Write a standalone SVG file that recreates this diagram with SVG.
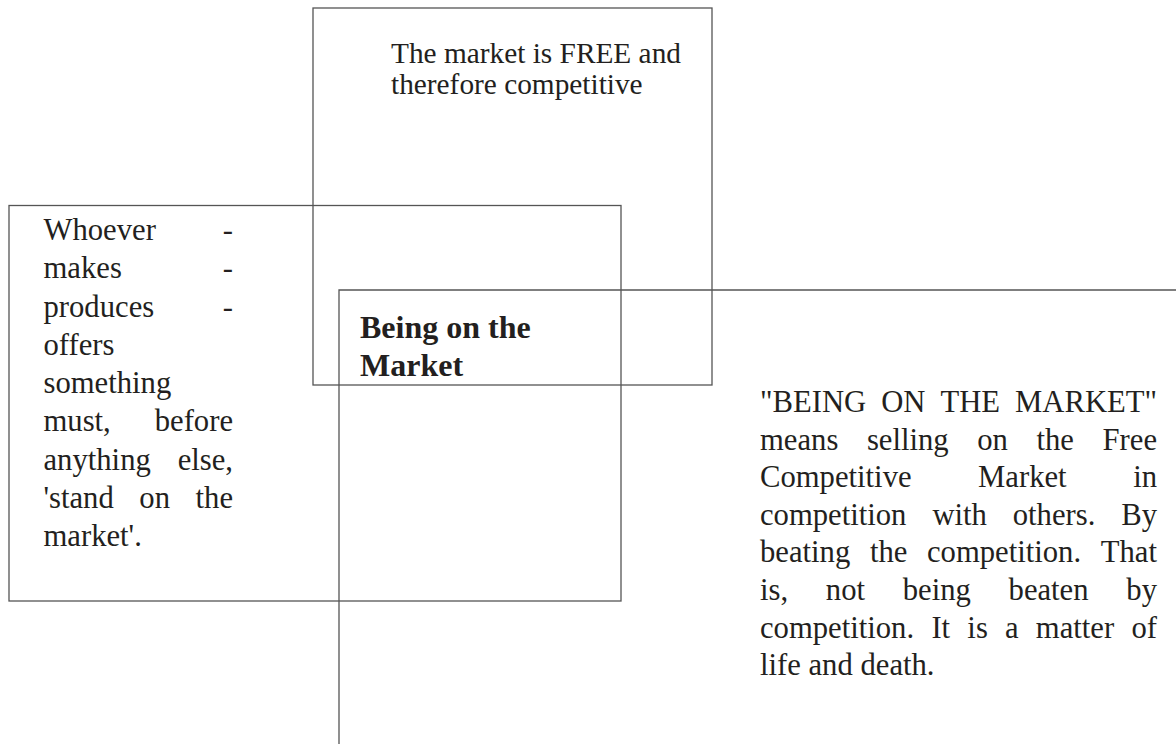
<svg xmlns="http://www.w3.org/2000/svg" width="1176" height="744" viewBox="0 0 1176 744">
<style>
.box{fill:none;stroke:#555;stroke-width:1.3}
.t{font-family:"Liberation Serif","Times New Roman",serif;fill:#231f20}
.body{font-size:30.67px}
.top{font-size:29.33px}
.title{font-size:32px;font-weight:bold}
.e{text-anchor:end}
</style>
<rect width="1176" height="744" fill="#ffffff"/>
<g id="connectors"></g>
<g id="node-free-market">
<rect class="box" x="313" y="8" width="399" height="377"/>
<text class="t top" x="391" y="63">The market is FREE and</text>
<text class="t top" x="391" y="94">therefore competitive</text>
</g>
<g id="node-whoever">
<rect class="box" x="9" y="205.5" width="612" height="395.5"/>
<g class="t body">
<text x="43.5" y="240">Whoever</text><text class="e" x="233" y="240">-</text>
<text x="43.5" y="278.25">makes</text><text class="e" x="233" y="278.25">-</text>
<text x="43.5" y="316.5">produces</text><text class="e" x="233" y="316.5">-</text>
<text x="43.5" y="354.75">offers</text>
<text x="43.5" y="393">something</text>
<text x="43.5" y="431.25">must,</text><text class="e" x="233" y="431.25">before</text>
<text x="43.5" y="469.5">anything</text><text class="e" x="233" y="469.5">else,</text>
<text x="43.5" y="507.75">'stand</text><text x="139.35" y="507.75">on</text><text class="e" x="233" y="507.75">the</text>
<text x="43.5" y="546">market'.</text>
</g>
</g>
<g id="node-being-on-market">
<path class="box" d="M1180,290 H339 V748"/>
<text class="t title" x="360" y="338">Being on the</text>
<text class="t title" x="360" y="376">Market</text>
</g>
<g id="node-definition" class="t body">
<text x="760" y="412">"BEING</text><text x="881.2" y="412">ON</text><text x="940.5" y="412">THE</text><text class="e" x="1157" y="412">MARKET"</text>
<text x="760" y="449.6">means</text><text x="866.91" y="449.6">selling</text><text x="977.26" y="449.6">on</text><text x="1036.48" y="449.6">the</text><text class="e" x="1157" y="449.6">Free</text>
<text x="760" y="487.2">Competitive</text><text x="978.11" y="487.2">Market</text><text class="e" x="1157" y="487.2">in</text>
<text x="760" y="524.8">competition</text><text x="932.38" y="524.8">with</text><text x="1012.75" y="524.8">others.</text><text class="e" x="1157" y="524.8">By</text>
<text x="760" y="562.4">beating</text><text x="869.89" y="562.4">the</text><text x="926.97" y="562.4">competition.</text><text class="e" x="1157" y="562.4">That</text>
<text x="760" y="600">is,</text><text x="825.82" y="600">not</text><text x="902.72" y="600">being</text><text x="1008.57" y="600">beaten</text><text class="e" x="1157" y="600">by</text>
<text x="760" y="637.6">competition.</text><text x="931.42" y="637.6">It</text><text x="967.37" y="637.6">is</text><text x="1005.04" y="637.6">a</text><text x="1035.87" y="637.6">matter</text><text class="e" x="1157" y="637.6">of</text>
<text x="760" y="675.2">life and death.</text>
</g>
</svg>
